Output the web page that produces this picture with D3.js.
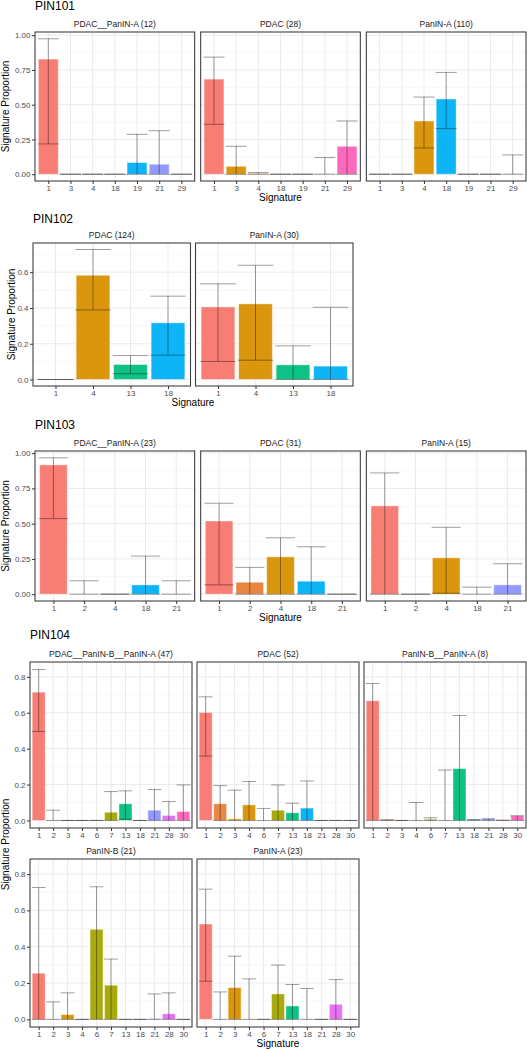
<!DOCTYPE html>
<html><head><meta charset="utf-8">
<script src="https://cdn.jsdelivr.net/npm/d3@7"></script>
<style>body{margin:0;background:#fff} svg{display:block;font-family:"Liberation Sans",Arial,sans-serif}</style>
</head><body><svg id="c" width="527" height="1050"></svg>
<script>
// ---------------- DATA ----------------
// PIN101
const sigs101 = [1, 3, 4, 18, 19, 21, 29];
const p101a_name = "PDAC__PanIN-A (12)";
const p101a_val = [0.828, 0, 0, 0, 0.084, 0.072, 0];
const p101a_lo  = [0.218, 0, 0, 0, 0, 0, 0];
const p101a_hi  = [0.974, 0, 0, 0, 0.287, 0.313, 0];
const p101b_name = "PDAC (28)";
const p101b_val = [0.684, 0.057, 0.005, 0, 0, 0, 0.201];
const p101b_lo  = [0.359, 0, 0, 0, 0, 0, 0];
const p101b_hi  = [0.842, 0.201, 0.012, 0, 0, 0.12, 0.383];
const p101c_name = "PanIN-A (110)";
const p101c_val = [0, 0, 0.383, 0.541, 0, 0, 0];
const p101c_lo  = [0, 0, 0.189, 0.328, 0, 0, 0];
const p101c_hi  = [0, 0, 0.555, 0.732, 0, 0, 0.139];
const ticks101 = [0, 0.25, 0.5, 0.75, 1];
const tickLabels101 = ["0.00", "0.25", "0.50", "0.75", "1.00"];

// PIN102
const sigs102 = [1, 4, 13, 18];
const p102a_name = "PDAC (124)";
const p102a_val = [0, 0.583, 0.084, 0.317];
const p102a_lo  = [0, 0.389, 0.032, 0.136];
const p102a_hi  = [0, 0.727, 0.134, 0.466];
const p102b_name = "PanIN-A (30)";
const p102b_val = [0.406, 0.423, 0.082, 0.075];
const p102b_lo  = [0.101, 0.108, 0, 0];
const p102b_hi  = [0.535, 0.639, 0.188, 0.404];
const ticks102 = [0, 0.2, 0.4, 0.6];
const tickLabels102 = ["0.0", "0.2", "0.4", "0.6"];

// PIN103
const sigs103 = [1, 2, 4, 18, 21];
const p103a_name = "PDAC__PanIN-A (23)";
const p103a_val = [0.917, 0, 0, 0.066, 0];
const p103a_lo  = [0.536, 0, 0, 0, 0];
const p103a_hi  = [0.967, 0.095, 0, 0.27, 0.095];
const p103b_name = "PDAC (31)";
const p103b_val = [0.519, 0.085, 0.265, 0.092, 0];
const p103b_lo  = [0.066, 0, 0, 0, 0];
const p103b_hi  = [0.645, 0.19, 0.40, 0.336, 0];
const p103c_name = "PanIN-A (15)";
const p103c_val = [0.626, 0, 0.258, 0, 0.066];
const p103c_lo  = [0, 0, 0.007, 0, 0];
const p103c_hi  = [0.86, 0, 0.474, 0.05, 0.216];
const ticks103 = [0, 0.25, 0.5, 0.75, 1];
const tickLabels103 = ["0.00", "0.25", "0.50", "0.75", "1.00"];

// PIN104
const sigs104 = [1, 2, 3, 4, 6, 7, 13, 18, 21, 28, 30];
const p104a_name = "PDAC__PanIN-B__PanIN-A (47)";
const p104a_val = [0.715, 0, 0, 0, 0, 0.046, 0.093, 0, 0.057, 0.028, 0.05];
const p104a_lo  = [0.496, 0, 0, 0, 0, 0, 0.007, 0, 0, 0, 0];
const p104a_hi  = [0.841, 0.057, 0, 0, 0, 0.161, 0.165, 0, 0.172, 0.106, 0.198];
const p104b_name = "PDAC (52)";
const p104b_val = [0.602, 0.093, 0.009, 0.087, 0, 0.057, 0.043, 0.069, 0, 0, 0];
const p104b_lo  = [0.359, 0, 0, 0, 0, 0, 0, 0, 0, 0, 0];
const p104b_hi  = [0.689, 0.194, 0.169, 0.217, 0.067, 0.198, 0.096, 0.22, 0, 0, 0];
const p104c_name = "PanIN-B__PanIN-A (8)";
const p104c_val = [0.667, 0.004, 0, 0, 0.007, 0, 0.289, 0.005, 0.009, 0.002, 0.026];
const p104c_lo  = [0, 0, 0, 0, 0, 0, 0, 0, 0, 0, 0];
const p104c_hi  = [0.763, 0.004, 0, 0.1, 0.015, 0.281, 0.585, 0.005, 0.009, 0.002, 0.026];
const p104d_name = "PanIN-B (21)";
const p104d_val = [0.254, 0, 0.026, 0, 0.496, 0.188, 0, 0, 0.004, 0.031, 0];
const p104d_lo  = [0, 0, 0, 0, 0, 0, 0, 0, 0, 0, 0];
const p104d_hi  = [0.726, 0.096, 0.146, 0, 0.73, 0.332, 0, 0, 0.14, 0.146, 0];
const p104e_name = "PanIN-A (23)";
const p104e_val = [0.525, 0, 0.175, 0, 0, 0.14, 0.074, 0, 0, 0.083, 0];
const p104e_lo  = [0.21, 0, 0, 0, 0, 0, 0, 0, 0, 0, 0];
const p104e_hi  = [0.717, 0.151, 0.348, 0.223, 0, 0.299, 0.192, 0.17, 0, 0.219, 0];
const ticks104 = [0, 0.2, 0.4, 0.6, 0.8];
const tickLabels104 = ["0.0", "0.2", "0.4", "0.6", "0.8"];

// signature colour keys
const colorSigs = [1, 2, 3, 4, 6, 7, 13, 18, 19, 21, 28, 29, 30];

// ---------------- STYLE / LAYOUT ----------------
const colorRange = ["#F8766D", "#E8803A", "#D89000", "#D89000", "#A3A500", "#A3A500",
  "#00BF7D", "#00B0F6", "#00B0F6", "#8C93FF", "#E76BF3", "#FF62BC", "#FF62BC"];
const color = d3.scaleOrdinal().domain(colorSigs).range(colorRange);

const groups = [
  { title: "PIN101", sigs: sigs101, ticks: ticks101, tickLabels: tickLabels101,
    panels: [[p101a_name, p101a_val, p101a_lo, p101a_hi], [p101b_name, p101b_val, p101b_lo, p101b_hi], [p101c_name, p101c_val, p101c_lo, p101c_hi]],
    L: { left: 35, right: 526, gap: 6, ncol: 3, rows: [[32, 181]], titleY: 10, yTitleX: 9 } },
  { title: "PIN102", sigs: sigs102, ticks: ticks102, tickLabels: tickLabels102,
    panels: [[p102a_name, p102a_val, p102a_lo, p102a_hi], [p102b_name, p102b_val, p102b_lo, p102b_hi]],
    L: { left: 33, right: 353, gap: 5, ncol: 2, rows: [[243, 386]], titleY: 223, yTitleX: 14.5 } },
  { title: "PIN103", sigs: sigs103, ticks: ticks103, tickLabels: tickLabels103,
    panels: [[p103a_name, p103a_val, p103a_lo, p103a_hi], [p103b_name, p103b_val, p103b_lo, p103b_hi], [p103c_name, p103c_val, p103c_lo, p103c_hi]],
    L: { left: 35, right: 526, gap: 6, ncol: 3, rows: [[451, 601]], titleY: 429, yTitleX: 9 } },
  { title: "PIN104", sigs: sigs104, ticks: ticks104, tickLabels: tickLabels104,
    panels: [[p104a_name, p104a_val, p104a_lo, p104a_hi], [p104b_name, p104b_val, p104b_lo, p104b_hi], [p104c_name, p104c_val, p104c_lo, p104c_hi],
             [p104d_name, p104d_val, p104d_lo, p104d_hi], [p104e_name, p104e_val, p104e_lo, p104e_hi]],
    L: { left: 30, right: 526, gap: 5, ncol: 3, rows: [[662, 828], [859, 1027]], titleY: 639, yTitleX: 9 } }
];

const svg = d3.select("#c");

groups.forEach(g => {
  const L = g.L;
  const M = d3.max(g.panels, p => d3.max(p[3].concat(p[1])));
  const pw = (L.right - L.left - L.gap * (L.ncol - 1)) / L.ncol;
  const G = svg.append("g");
  // group title
  G.append("text").attr("x", L.left).attr("y", L.titleY)
    .attr("font-size", 12).attr("fill", "#000").text(g.title);

  let lastBottom = 0;
  g.panels.forEach((p, i) => {
    const [name, val, lo, hi] = p;
    const r = Math.floor(i / L.ncol), c = i % L.ncol;
    const x0 = L.left + c * (pw + L.gap), x1 = x0 + pw;
    const [top, bot] = L.rows[r];
    lastBottom = bot;
    const y = d3.scaleLinear().domain([-0.05 * M, 1.05 * M]).range([bot, top]);
    const x = d3.scalePoint().domain(g.sigs).range([x0, x1]).padding(0.6);
    const step = x.step();
    const bw = step * 0.9;
    const P = G.append("g");
    P.append("rect").attr("x", x0).attr("y", top).attr("width", pw).attr("height", bot - top).attr("fill", "#fff");
    // minor grid
    const minors = [];
    const dstep = g.ticks[1] - g.ticks[0];
    for (let k = 0; k < g.ticks.length; k++) {
      const m = g.ticks[k] + dstep / 2;
      if (m < y.domain()[1]) minors.push(m);
    }
    P.selectAll(".mn").data(minors).join("line")
      .attr("x1", x0).attr("x2", x1).attr("y1", d => y(d)).attr("y2", d => y(d))
      .attr("stroke", "#f2f2f2").attr("stroke-width", 0.6);
    // major grid
    P.selectAll(".mj").data(g.ticks).join("line")
      .attr("x1", x0).attr("x2", x1).attr("y1", d => y(d)).attr("y2", d => y(d))
      .attr("stroke", "#ebebeb").attr("stroke-width", 1);
    P.selectAll(".mx").data(g.sigs).join("line")
      .attr("x1", d => x(d)).attr("x2", d => x(d)).attr("y1", top).attr("y2", bot)
      .attr("stroke", "#ebebeb").attr("stroke-width", 1);
    // bars
    const data = g.sigs.map((s, j) => ({ s, v: val[j], lo: lo[j], hi: hi[j] }));
    P.selectAll(".bar").data(data.filter(d => d.v > 0)).join("rect")
      .attr("x", d => x(d.s) - bw / 2).attr("width", bw)
      .attr("y", d => y(d.v)).attr("height", d => y(0) - y(d.v))
      .attr("fill", d => color(d.s)).attr("fill-opacity", 0.95)
      .attr("stroke", "#fff").attr("stroke-opacity", 0.45).attr("stroke-width", 1);
    // error bars
    const cw = step * 0.95;
    P.selectAll(".eb").data(data).join("path")
      .attr("d", d => {
        const cx = x(d.s), yl = y(d.lo), yh = y(d.hi);
        return `M${cx - cw / 2},${yh}H${cx + cw / 2}M${cx},${yh}V${yl}M${cx - cw / 2},${yl}H${cx + cw / 2}`;
      })
      .attr("fill", "none").attr("stroke", "#000").attr("stroke-opacity", 0.38).attr("stroke-width", 1);
    // border
    P.append("rect").attr("x", x0).attr("y", top).attr("width", pw).attr("height", bot - top)
      .attr("fill", "none").attr("stroke", "#404040").attr("stroke-width", 1.1);
    // strip text
    P.append("text").attr("x", (x0 + x1) / 2).attr("y", top - 5).attr("text-anchor", "middle")
      .attr("font-size", 8.5).attr("fill", "#1a1a1a").text(name);
    // x axis
    const xa = P.append("g").attr("transform", `translate(0,${bot})`)
      .call(d3.axisBottom(x).tickSize(3).tickPadding(1.5));
    xa.select(".domain").remove();
    xa.selectAll(".tick line").attr("stroke", "#333");
    xa.selectAll(".tick text").attr("font-size", 8).attr("fill", "#4d4d4d").attr("font-family", "Liberation Sans, Arial, sans-serif");
    // y axis (first column only)
    if (c === 0) {
      const ya = P.append("g").attr("transform", `translate(${x0},0)`)
        .call(d3.axisLeft(y).tickValues(g.ticks).tickFormat((d, k) => g.tickLabels[k]).tickSize(3).tickPadding(1.5));
      ya.select(".domain").remove();
      ya.selectAll(".tick line").attr("stroke", "#333");
      ya.selectAll(".tick text").attr("font-size", 8).attr("fill", "#4d4d4d").attr("font-family", "Liberation Sans, Arial, sans-serif");
    }
  });
  const plotRight = L.left + L.ncol * pw + (L.ncol - 1) * L.gap;
  G.append("text").attr("x", (L.left + plotRight) / 2).attr("y", lastBottom + 19.5)
    .attr("text-anchor", "middle").attr("font-size", 10).attr("fill", "#000").text("Signature");
  const yc = (L.rows[0][0] + L.rows[L.rows.length - 1][1]) / 2;
  G.append("text").attr("transform", `translate(${L.yTitleX},${yc}) rotate(-90)`)
    .attr("text-anchor", "middle").attr("font-size", 10).attr("fill", "#000").text("Signature Proportion");
});
</script></body></html>
